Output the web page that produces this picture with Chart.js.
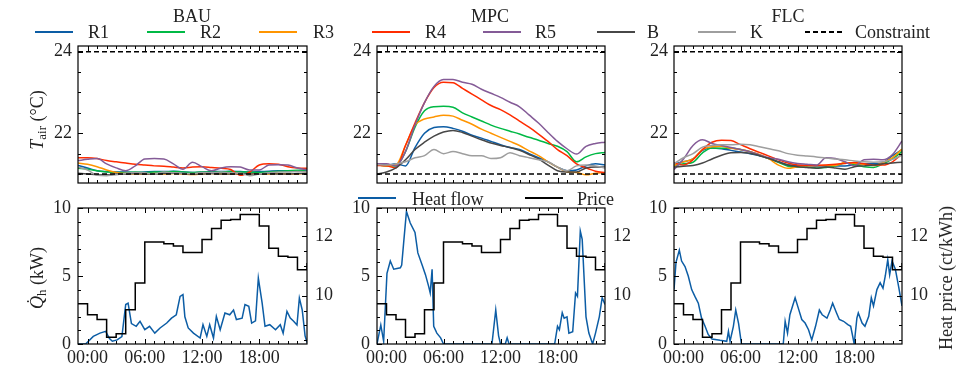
<!DOCTYPE html>
<html><head><meta charset="utf-8">
<script src="https://cdn.jsdelivr.net/npm/chart.js@4"></script>
<style>
body{margin:0;background:#fff;width:963px;height:369px;overflow:hidden;position:relative;font-family:"Liberation Serif",serif;color:#222;}
canvas{position:absolute;left:0;top:0;}
.t{position:absolute;font-size:18px;white-space:nowrap;line-height:18px;}
.c{transform:translateX(-50%);}
.rot{transform:translate(-50%,-50%) rotate(-90deg);}
.sw{position:absolute;height:2px;width:38px;}
sub{font-size:13px;vertical-align:-3px;line-height:0;}
</style></head><body>
<canvas id="c0" width="963" height="369"></canvas>
<canvas id="c1" width="963" height="369"></canvas>
<canvas id="c2" width="963" height="369"></canvas>
<canvas id="c3" width="963" height="369"></canvas>
<canvas id="c4" width="963" height="369"></canvas>
<canvas id="c5" width="963" height="369"></canvas>

<div class="t c" style="left:192px;top:7px">BAU</div>
<div class="t c" style="left:490px;top:7px">MPC</div>
<div class="t c" style="left:788px;top:7px">FLC</div>
<div id="legend"></div>
<div class="sw" style="left:358px;top:197px;background:#0C5DA5"></div>
<div class="t" style="left:412px;top:190px">Heat flow</div>
<div class="sw" style="left:525px;top:197px;background:#000"></div>
<div class="t" style="left:577px;top:190px">Price</div>
<div class="t rot" style="left:37px;top:120px"><i>T</i><sub>air</sub> (°C)</div>
<div class="t rot" style="left:37px;top:278px"><i>Q&#775;</i><sub>h</sub> (kW)</div>
<div class="t rot" style="left:946px;top:278px">Heat price (ct/kWh)</div>

<script>
// ---------- DATA ----------
const hoursT = [-1,0,1,2,3,4,5,6,7,8,9,10,11,12,13,14,15,16,17,18,19,20,21,22,23];
const seriesNames = ['R1','R2','R3','R4','R5','B','K'];
const constraintLow = 21;
const constraintHigh = 24;

// BAU air temperatures (°C), hourly
const bauR1 = [21.21,21.15,21.08,21.06,21.05,21.05,21.04,21.05,21.06,21.06,21.07,21.05,21.04,21.05,21.06,21.06,21.07,21.06,21.05,21.06,21.07,21.08,21.08,21.08,21.08];
const bauR2 = [21.14,21.12,21.08,21.05,21.04,21.04,21.05,21.04,21.05,21.05,21.06,21.05,21.04,21.05,21.05,21.05,21.06,21.05,21.05,21.04,21.05,21.07,21.08,21.09,21.10];
const bauR3 = [21.27,21.24,21.18,21.10,21.04,21.01,21.00,21.00,21.01,21.00,21.01,21.00,20.99,21.00,21.01,21.00,21.00,21.01,21.00,21.00,21.00,21.01,21.00,21.00,21.02];
const bauR4 = [21.40,21.40,21.38,21.33,21.30,21.27,21.24,21.22,21.20,21.19,21.17,21.15,21.17,21.18,21.16,21.14,21.11,20.97,21.05,21.22,21.25,21.24,21.18,21.15,21.14];
const bauR5 = [21.33,21.36,21.38,21.25,21.15,21.08,21.20,21.37,21.38,21.37,21.25,21.12,21.29,21.18,21.08,21.15,21.18,21.17,21.10,21.10,21.22,21.23,21.22,21.15,21.10];
const bauB  = [21.02,21.00,20.98,20.98,21.00,21.00,21.01,21.00,21.00,21.01,21.02,21.01,21.00,21.00,21.01,21.00,21.00,21.01,21.00,21.00,21.01,21.00,21.00,21.01,21.02];
const bauK  = [21.17,21.10,20.97,20.96,20.98,21.02,21.04,21.03,21.00,21.05,21.03,21.02,21.01,21.04,21.03,21.05,21.03,21.02,20.96,21.00,21.03,21.05,21.05,21.06,21.05];

// MPC air temperatures
const mpcR1 = [21.25,21.22,21.25,21.20,21.65,22.00,22.14,22.16,22.12,22.05,21.95,21.88,21.80,21.72,21.65,21.60,21.50,21.40,21.30,21.17,21.08,21.10,21.20,21.25,21.22];
const mpcR2 = [21.23,21.20,21.20,21.55,22.15,22.55,22.65,22.66,22.64,22.50,22.40,22.30,22.20,22.12,22.05,21.98,21.90,21.83,21.75,21.68,21.55,21.30,21.42,21.50,21.53];
const mpcR3 = [21.23,21.20,21.22,21.70,22.20,22.35,22.40,22.44,22.42,22.32,22.22,22.10,22.00,21.90,21.80,21.70,21.57,21.45,21.30,21.17,21.05,21.04,20.98,21.02,21.04];
const mpcR4 = [21.21,21.20,21.15,21.70,22.25,22.75,23.12,23.25,23.24,23.10,22.96,22.82,22.68,22.58,22.45,22.30,22.15,21.98,21.80,21.60,21.45,21.25,21.15,21.07,21.03];
const mpcR5 = [21.25,21.25,21.20,21.55,22.20,22.75,23.15,23.32,23.32,23.25,23.20,23.08,22.98,22.88,22.76,22.65,22.45,22.25,22.02,21.80,21.62,21.49,21.68,21.75,21.78];
const mpcB  = [21.00,21.05,21.15,21.35,21.60,21.78,21.93,22.03,22.07,22.02,21.93,21.84,21.76,21.70,21.65,21.58,21.48,21.37,21.22,21.08,21.05,21.05,21.15,21.17,21.17];
const mpcK  = [21.23,21.22,21.25,21.30,21.40,21.45,21.60,21.50,21.55,21.50,21.45,21.45,21.38,21.40,21.52,21.45,21.40,21.35,21.30,21.17,21.08,21.20,21.22,21.20,21.15];

// FLC air temperatures
const flcR1 = [21.25,21.30,21.37,21.58,21.64,21.62,21.58,21.54,21.50,21.45,21.38,21.30,21.22,21.21,21.21,21.20,21.20,21.20,21.20,21.23,21.25,21.25,21.28,21.45,21.60];
const flcR2 = [21.21,21.25,21.29,21.52,21.64,21.63,21.64,21.60,21.55,21.46,21.38,21.29,21.19,21.17,21.17,21.15,21.16,21.20,21.27,21.23,21.18,21.16,21.25,21.37,21.55];
const flcR3 = [21.21,21.30,21.37,21.60,21.67,21.68,21.63,21.60,21.55,21.48,21.37,21.22,21.14,21.18,21.21,21.21,21.21,21.21,21.28,21.26,21.24,21.21,21.28,21.40,21.61];
const flcR4 = [21.27,21.22,21.35,21.60,21.78,21.83,21.82,21.72,21.62,21.53,21.44,21.35,21.27,21.22,21.21,21.21,21.22,21.24,21.26,21.28,21.25,21.22,21.22,21.30,21.49];
const flcR5 = [21.11,21.37,21.70,21.84,21.75,21.70,21.65,21.60,21.55,21.47,21.40,21.36,21.30,21.26,21.24,21.22,21.40,21.38,21.30,21.20,21.35,21.36,21.35,21.48,21.81];
const flcB  = [21.17,21.19,21.21,21.27,21.37,21.46,21.52,21.53,21.51,21.45,21.38,21.30,21.22,21.18,21.16,21.14,21.17,21.15,21.12,21.18,21.20,21.22,21.25,21.27,21.29];
const flcK  = [21.25,21.40,21.50,21.66,21.70,21.72,21.72,21.73,21.72,21.67,21.62,21.57,21.50,21.46,21.44,21.42,21.39,21.37,21.35,21.32,21.30,21.29,21.30,21.36,21.46];

// Heat flow (kW), irregular sample times (h)
const bauHeatH = [-1,-0.2,0.6,1.3,1.9,2.3,2.6,3.1,3.6,4.0,4.25,4.6,5.1,5.5,6.0,6.5,7.05,7.6,8.3,8.8,9.3,9.7,10.0,10.2,10.55,11.1,11.8,12.1,12.5,12.8,13.2,13.5,13.9,14.4,14.9,15.3,15.6,16.2,16.5,16.9,17.2,17.6,17.9,18.3,18.6,19.1,19.7,20.2,20.5,20.9,21.25,21.6,21.95,22.2,22.5,22.8,23];
const bauHeatV = [0,0,0.56,0.8,0.93,0.4,0.2,0.3,0.55,2.9,3.0,1.5,1.3,1.67,1.05,1.3,0.8,1.18,1.54,1.9,2.15,3.5,3.63,2.0,1.18,0.8,0.44,1.42,0.56,1.42,0.44,2.03,1.05,2.28,2.15,2.5,1.8,1.9,2.9,2.77,1.54,1.7,4.85,3.0,1.3,1.42,1.05,1.42,0.8,2.4,1.9,1.67,1.4,3.38,2.5,0.6,0.1];
const mpcHeatH = [-1,-0.6,-0.3,0.05,0.4,0.76,1.46,1.6,1.8,2.1,2.5,3.0,3.3,3.75,4.1,4.45,4.6,4.8,4.97,5.3,5.7,6.0,11.1,11.5,11.8,12.0,12.5,12.7,12.9,17.7,18.0,18.2,18.5,18.7,19.0,19.2,19.6,19.9,20.1,20.4,20.6,21.0,21.3,21.7,22.0,22.4,22.7,23];
const mpcHeatV = [0,1.4,0.2,5.2,6.1,5.5,5.6,5.8,7.4,9.75,8.9,8.2,6.7,5.8,5.1,4.2,3.75,5.5,1.3,0.8,0.45,0,0,2.5,0.6,0,0,0.45,0,0,1.3,1.05,2.3,1.9,2.0,0.8,0.9,3.75,3.5,8.3,7.7,2.0,0.8,0,0.8,2.0,3.4,2.9];
const flcHeatH = [-1,-0.79,-0.44,-0.2,0.16,0.5,0.86,1.2,1.56,1.9,2.27,2.6,3.0,3.85,4.55,4.73,4.9,5.25,5.5,5.8,6.1,10.5,10.7,10.95,11.2,11.75,12.1,12.45,12.8,13.16,13.5,13.9,14.3,14.6,15.1,15.45,15.7,16.1,16.4,16.85,17.3,17.6,17.97,18.25,18.4,18.8,19.1,19.5,19.77,20.0,20.36,20.7,21.0,21.24,21.5,21.7,21.95,22.3,22.65,23];
const flcHeatV = [4.0,6.0,6.9,6.1,5.7,5.0,4.0,3.5,3.0,1.9,1.3,0.7,0.37,0.27,0.2,0.93,0.2,1.3,2.5,1.5,0,0,1.67,0.8,2.15,3.4,2.6,1.8,1.54,1.05,0.3,1.3,2.5,2.15,1.9,2.5,3.0,2.3,1.8,1.67,1.42,1.3,0,1.9,2.28,1.54,1.3,2.03,3.4,2.8,4.0,4.5,4.1,5.0,6.2,5.1,6.1,5.5,4.2,2.8];

// Heat price (ct/kWh), hourly steps
const priceH = [-1,0,1,2,3,4,5,6,7,8,9,10,11,12,13,14,15,16,17,18,19,20,21,22,23];
const priceV = [9.73,9.36,9.2,8.6,8.72,9.53,10.43,11.81,11.81,11.75,11.68,11.46,11.46,11.9,12.27,12.55,12.57,12.74,12.74,12.35,11.6,11.33,11.3,10.88,11.1];

// Tick values
const xMajorTicks = [0,6,12,18];
const tempMajorTicks = [22,24];
const heatMajorTicks = [0,5,10];
const priceMajorTicks = [10,12];

// ---------- STYLE / LAYOUT ----------
const COLORS = {R1:'#0C5DA5',R2:'#00B945',R3:'#FF9500',R4:'#FF2C00',R5:'#845B97',B:'#474747',K:'#9e9e9e'};
const W = 963, H = 369;
const COLS = [[78,307],[377,605],[674,902]];
const ROWS = [[46,183],[208,344]];
const FONT = {family:'Liberation Serif', size:18};
const TXT = '#222';
const xMinor = []; for (let h=0; h<23; h++) if (!xMajorTicks.includes(h)) xMinor.push(h);

function framePlugin(spec){
  return {id:'frame', afterDatasetsDraw(chart){
    const {ctx, chartArea:a, scales} = chart;
    ctx.save(); ctx.strokeStyle='#000'; ctx.lineWidth=1;
    const ln=(x1,y1,x2,y2)=>{ctx.beginPath();ctx.moveTo(x1,y1);ctx.lineTo(x2,y2);ctx.stroke();};
    const xs=scales.x;
    [[xMajorTicks,5],[xMinor,3]].forEach(([vals,len])=>vals.forEach(v=>{
      const x=Math.round(xs.getPixelForValue(v))+0.5; ln(x,a.bottom,x,a.bottom-len); ln(x,a.top,x,a.top+len);}));
    ['left','right'].forEach(side=>{
      const s=spec[side]; if(!s) return; const sc=scales[s.scale];
      [[s.major,5],[s.minor,3]].forEach(([vals,len])=>vals.forEach(v=>{
        const y=Math.round(sc.getPixelForValue(v))+0.5;
        if(side==='left') ln(a.left,y,a.left+len,y); else ln(a.right,y,a.right-len,y);}));
    });
    ctx.lineWidth=1.2; ctx.strokeRect(a.left,a.top,a.right-a.left,a.bottom-a.top);
    ctx.restore();
  }};
}
const fixTicks = vals => s => { s.ticks = vals.map(v=>({value:v})); };
const pts = (xs,ys) => xs.map((x,i)=>({x, y:ys[i]}));

function tempChart(ci, arrs){
  const ds = seriesNames.map((n,i)=>({label:n, data:pts(hoursT,arrs[i]), borderColor:COLORS[n], borderWidth:1.5,
    pointRadius:0, cubicInterpolationMode:'monotone', order:20-i}));
  ds.push({label:'Constraint', data:pts([-1,23],[constraintLow,constraintLow]), borderColor:'#000', borderWidth:1.5, borderDash:[5,3], pointRadius:0, order:1});
  ds.push({label:'Constraint', data:pts([-1,23],[constraintHigh,constraintHigh]), borderColor:'#000', borderWidth:1.5, borderDash:[5,3], pointRadius:0, order:0});
  const tminor=[21,21.5,22.5,23,23.5];
  new Chart(document.getElementById('c'+ci), {type:'line', data:{datasets:ds},
    options:{responsive:false, animation:false, events:[],
      layout:{padding:{left:0,right:W-COLS[ci][1],top:ROWS[0][0],bottom:H-ROWS[0][1]}},
      plugins:{legend:{display:false},tooltip:{enabled:false}},
      scales:{
        x:{type:'linear',min:-1,max:23,display:false},
        y:{type:'linear',min:20.78,max:24.14,position:'left',grid:{display:false,drawTicks:false},border:{display:false},
           ticks:{font:FONT,color:TXT,padding:6,autoSkip:false},afterBuildTicks:fixTicks(tempMajorTicks),afterFit:s=>{s.width=COLS[ci][0];}}
      }},
    plugins:[framePlugin({left:{scale:'y',major:tempMajorTicks,minor:tminor},right:{scale:'y',major:tempMajorTicks,minor:tminor}})]});
}

function heatChart(ci, hh, hv){
  const ds=[
    {label:'Heat flow', data:pts(hh,hv), borderColor:'#0C5DA5', borderWidth:1.5, pointRadius:0, yAxisID:'y', order:2},
    {label:'Price', data:pts(priceH,priceV), borderColor:'#000', borderWidth:1.5, pointRadius:0, stepped:'before', yAxisID:'y2', order:1}
  ];
  const hminor=[1,2,3,4,6,7,8,9], pminor=[8.5,9,9.5,10.5,11,11.5,12.5];
  new Chart(document.getElementById('c'+(ci+3)), {type:'line', data:{datasets:ds},
    options:{responsive:false, animation:false, events:[],
      layout:{padding:{left:0,right:W-COLS[ci][1]-40,top:ROWS[1][0],bottom:H-ROWS[1][1]-24}},
      plugins:{legend:{display:false},tooltip:{enabled:false}},
      scales:{
        x:{type:'linear',min:-1,max:23,position:'bottom',grid:{display:false,drawTicks:false},border:{display:false},
           ticks:{font:FONT,color:TXT,padding:3,autoSkip:false,maxRotation:0,callback:v=>(v<10?'0':'')+v+':00'},
           afterBuildTicks:fixTicks(xMajorTicks),afterFit:s=>{s.height=24;}},
        y:{type:'linear',min:0,max:10,position:'left',grid:{display:false,drawTicks:false},border:{display:false},
           ticks:{font:FONT,color:TXT,padding:7,autoSkip:false},afterBuildTicks:fixTicks(heatMajorTicks),afterFit:s=>{s.width=COLS[ci][0];}},
        y2:{type:'linear',min:8.37,max:12.96,position:'right',grid:{display:false,drawTicks:false},border:{display:false},
           ticks:{font:FONT,color:TXT,padding:8,autoSkip:false},afterBuildTicks:fixTicks(priceMajorTicks),afterFit:s=>{s.width=40;}}
      }},
    plugins:[framePlugin({left:{scale:'y',major:heatMajorTicks,minor:hminor},right:{scale:'y2',major:priceMajorTicks,minor:pminor}})]});
}

tempChart(0,[bauR1,bauR2,bauR3,bauR4,bauR5,bauB,bauK]);
tempChart(1,[mpcR1,mpcR2,mpcR3,mpcR4,mpcR5,mpcB,mpcK]);
tempChart(2,[flcR1,flcR2,flcR3,flcR4,flcR5,flcB,flcK]);
heatChart(0,bauHeatH,bauHeatV);
heatChart(1,mpcHeatH,mpcHeatV);
heatChart(2,flcHeatH,flcHeatV);

// ---------- LEGEND ----------
const legendItems = [
  ['R1',35,88],['R2',147,200],['R3',259,313],['R4',372,425],['R5',483,535],['B',597,647],['K',698,750],['Constraint',805,855]
];
const lg=document.getElementById('legend');
legendItems.forEach(([n,lx,tx])=>{
  const sw=document.createElement('div'); sw.className='sw';
  sw.style.left=lx+'px'; sw.style.top='31px';
  sw.style.background = n==='Constraint' ? 'repeating-linear-gradient(90deg,#000 0 5px,transparent 5px 8px)' : COLORS[n];
  lg.appendChild(sw);
  const t=document.createElement('div'); t.className='t'; t.style.left=tx+'px'; t.style.top='23px'; t.textContent=n;
  lg.appendChild(t);
});
</script>
</body></html>
